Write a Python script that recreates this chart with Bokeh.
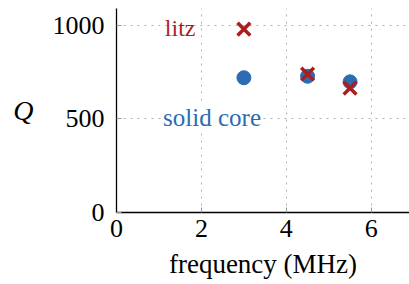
from bokeh.plotting import figure
from bokeh.models import Range1d, Label
from bokeh.embed import file_html
from bokeh.resources import INLINE

# data
freq = [3.0, 4.5, 5.5]
q_litz = [980, 740, 665]
q_solid = [720, 728, 698]
x_ticks = [0, 2, 4, 6]
y_ticks = [0, 500, 1000]

RED = "#ac1e1e"
BLUE = "#2b6cb3"
FONT = "Liberation Serif"

p = figure(width=409, height=284, output_backend="svg", toolbar_location=None,
           x_range=Range1d(0, 6.9), y_range=Range1d(0, 1090),
           min_border_left=116, min_border_right=0, min_border_top=8,
           min_border_bottom=72)
p.outline_line_color = None
p.background_fill_color = "white"
p.border_fill_color = "white"

for ax in (p.xaxis[0], p.yaxis[0]):
    ax.axis_line_color = "black"
    ax.axis_line_width = 1.3
    ax.major_tick_in = 5
    ax.major_tick_out = 0
    ax.major_tick_line_color = "#999999"
    ax.minor_tick_line_color = None
    ax.major_label_text_font = FONT
    ax.major_label_text_font_size = "26px"
    ax.major_label_text_color = "black"

p.xaxis.ticker = x_ticks
p.yaxis.ticker = y_ticks
p.xaxis.major_label_standoff = 7
p.yaxis.major_label_standoff = 12
p.xaxis.axis_label = "frequency (MHz)"
p.xaxis.axis_label_text_font = FONT
p.xaxis.axis_label_text_font_size = "27px"
p.xaxis.axis_label_text_font_style = "normal"
p.xaxis.axis_label_text_color = "black"
p.xaxis.axis_label_standoff = 9

yax = p.yaxis[0]
try:
    yax.axis_label_orientation = "horizontal"
    yax.axis_label = "Q"
    yax.axis_label_text_font = FONT
    yax.axis_label_text_font_size = "28px"
    yax.axis_label_text_font_style = "italic"
    yax.axis_label_text_color = "black"
    yax.axis_label_standoff = 16
except Exception:
    p.add_layout(Label(x=24, y=284 - 111 - 72, x_units="screen", y_units="screen",
                       text="Q", text_font=FONT, text_font_size="28px",
                       text_font_style="italic", text_align="center",
                       text_baseline="middle"))

p.xgrid.ticker = x_ticks
p.ygrid.ticker = y_ticks
for g in (p.xgrid[0], p.ygrid[0]):
    g.grid_line_color = "#b0b0b0"
    g.grid_line_dash = "2 5"
    g.grid_line_width = 1

p.scatter(freq, q_solid, marker="circle", size=14, fill_color=BLUE, line_color=BLUE)
p.scatter(freq, q_litz, marker="x", size=18, line_color=RED, line_width=3.5)

p.add_layout(Label(x=1.5, y=985, text="litz", text_color=RED, text_font=FONT,
                   text_font_size="24px", text_align="center", text_baseline="middle"))
p.add_layout(Label(x=2.25, y=510, text="solid core", text_color=BLUE, text_font=FONT,
                   text_font_size="25px", text_align="center", text_baseline="middle",
                   background_fill_color="white"))

open("out.html", "w").write(file_html(p, INLINE))
